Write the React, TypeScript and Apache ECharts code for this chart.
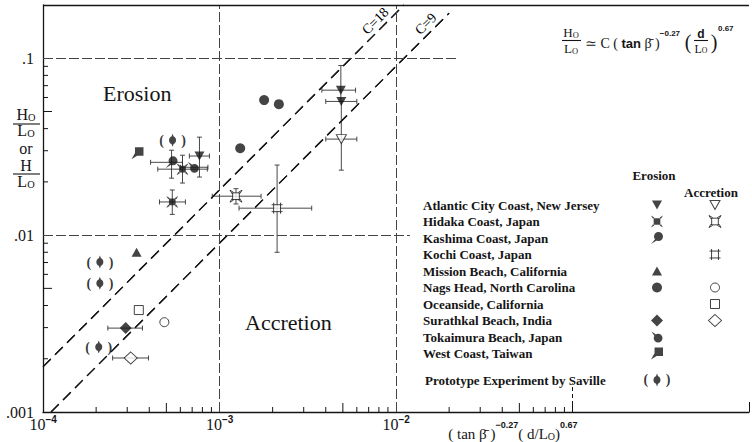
import React, { useEffect, useRef } from 'react';
import * as echarts from 'echarts';

// ---------------- data ----------------
const atlanticErosion = [[4.87e-3, 0.066], [4.9e-3, 0.057], [7.7e-4, 0.028]];
const atlanticAccretion = [[4.9e-3, 0.0349]];
const hidakaErosion = [[6.17e-4, 0.0236], [5.4e-4, 0.0154]];
const hidakaAccretion = [[1.24e-3, 0.0166]];
const kashimaErosion = [[5.35e-4, 0.0258]];
const kochiAccretion = [[2.12e-3, 0.0142]];
const missionErosion = [[3.39e-4, 0.008]];
const nagsErosion = [[1.79e-3, 0.058], [2.17e-3, 0.055], [1.31e-3, 0.031]];
const nagsAccretion = [[4.87e-4, 0.00322]];
const oceansideAccretion = [[3.49e-4, 0.00377]];
const surathkalErosion = [[2.94e-4, 0.00298]];
const surathkalAccretion = [[3.14e-4, 0.00202]];
const tokaimuraErosion = [[7.11e-4, 0.0242]];
const westCoastErosion = [[3.43e-4, 0.029]];
const savillePrototype = [[5.42e-4, 0.0344], [2.1e-4, 0.00704], [2.1e-4, 0.00535], [2.07e-4, 0.00233]];

// error bars: [x, y, low, high]
const xErrors = [
  [4.87e-3, 0.066, 3.8e-3, 5.9e-3],
  [4.9e-3, 0.057, 4.0e-3, 6.0e-3],
  [4.9e-3, 0.0349, 4.0e-3, 6.0e-3],
  [7.7e-4, 0.028, 6.75e-4, 8.77e-4],
  [6.17e-4, 0.0236, 4.47e-4, 8.53e-4],
  [5.4e-4, 0.0154, 4.57e-4, 6.41e-4],
  [1.24e-3, 0.0166, 9.1e-4, 1.72e-3],
  [2.12e-3, 0.0142, 1.29e-3, 3.33e-3],
  [5.35e-4, 0.0258, 4.07e-4, 6.17e-4],
  [7.11e-4, 0.0242, 6.0e-4, 8.6e-4],
  [2.94e-4, 0.00298, 2.33e-4, 3.66e-4],
  [3.14e-4, 0.00202, 2.48e-4, 3.96e-4],
];
const yErrors = [
  [4.87e-3, 0.066, 0.057, 0.091],
  [4.9e-3, 0.0349, 0.0233, 0.057],
  [7.7e-4, 0.028, 0.0213, 0.0358],
  [6.17e-4, 0.0236, 0.0197, 0.0283],
  [5.4e-4, 0.0154, 0.0131, 0.018],
  [1.24e-3, 0.0166, 0.015, 0.0183],
  [2.12e-3, 0.0142, 0.008, 0.0249],
  [5.35e-4, 0.0258, 0.021, 0.0302],
];

// reference lines H/L = C * X
const c18Line = [[1e-4, 0.0018], [0.0111, 0.2]];
const c9Line = [[1.11e-4, 0.001], [0.02, 0.18]];

// tick labels
const xTickExponents = [-4, -3, -2];
const yTickLabels = ['.001', '.01', '.1'];
const minorMultipliers = [2, 3, 4, 5, 6, 7, 8, 9];
const xMinorDecades = [1e-4, 1e-3, 1e-2];
const yMinorDecades = [1e-3, 1e-2];

const legendRows = [
  'Atlantic City Coast, New Jersey',
  'Hidaka Coast, Japan',
  'Kashima Coast, Japan',
  'Kochi Coast, Japan',
  'Mission Beach, California',
  'Nags Head, North Carolina',
  'Oceanside, California',
  'Surathkal Beach, India',
  'Tokaimura Beach, Japan',
  'West Coast, Taiwan',
];
const legendErosionMarks = ['triDown', 'hidaka', 'kashima', null, 'triUp', 'dot', null, 'diamond', 'tokaimura', 'west'];
const legendAccretionMarks = ['triDownOpen', 'hidakaOpen', null, 'kochi', null, 'ring', 'square', 'diamondOpen', null, null];

// ---------------- styling ----------------
const INK = '#151515';
const SERIF = '"Liberation Serif", "DejaVu Serif", serif';
const SANS = '"Liberation Sans", "DejaVu Sans", sans-serif';

const MARK: any = {
  triDown: { symbol: 'triangle', size: [10, 9], rotate: 180 },
  triDownOpen: { symbol: 'triangle', size: [10, 9], rotate: 180, open: true },
  triUp: { symbol: 'triangle', size: [10, 9] },
  dot: { symbol: 'circle', size: 10 },
  ring: { symbol: 'circle', size: 9, open: true },
  square: { symbol: 'rect', size: 9, open: true },
  diamond: { symbol: 'diamond', size: [12, 12] },
  diamondOpen: { symbol: 'diamond', size: [13, 12], open: true },
  hidaka: { symbol: 'path://M4,4H14V14H4Z M0,0L5,3L3,5Z M18,0L15,5L13,3Z M18,18L13,15L15,13Z M0,18L3,13L5,15Z', size: 12 },
  hidakaOpen: { symbol: 'path://M4,4H14V14H4Z M0,0L5,3L3,5Z M18,0L15,5L13,3Z M18,18L13,15L15,13Z M0,18L3,13L5,15Z', size: 12, open: true },
  kochi: { symbol: 'path://M3,3H13V13H3Z M0,3H3 M13,3H16 M0,13H3 M13,13H16 M3,0V3 M13,0V3 M3,13V16 M13,13V16', size: 11, open: true },
  kashima: { symbol: 'path://M5,8A6,6,0,1,1,17,8A6,6,0,1,1,5,8Z M1,18L7,11L9,13Z', size: 12 },
  tokaimura: { symbol: 'path://M4,10A6,6,0,1,1,16,10A6,6,0,1,1,4,10Z M1,1L7,5L5,7Z', size: 11 },
  west: { symbol: 'path://M5,1H17V13H5Z M0,18L5,9L8,13Z', size: 12 },
  saville: { symbol: 'path://M5,0L6,3C9,4,9,10,6,11L5,14L4,11C1,10,1,4,4,3Z', size: [7, 13], paren: true },
};

function scatter(name: string, data: any[], key: string, axisIndex = 0, extra: any = {}) {
  const m = MARK[key];
  return {
    type: 'scatter',
    name,
    data,
    xAxisIndex: axisIndex,
    yAxisIndex: axisIndex,
    symbol: m.symbol,
    symbolSize: m.size,
    symbolRotate: m.rotate || 0,
    itemStyle: m.open ? { color: '#fff', borderColor: INK, borderWidth: 1 } : { color: INK },
    label: m.paren
      ? {
          show: true,
          position: 'inside',
          formatter: '(     )',
          fontFamily: SERIF,
          fontWeight: 'bold',
          fontSize: 14,
          color: '#000',
          textBorderWidth: 0,
          textBorderColor: 'transparent',
        }
      : { show: false },
    z: 5,
    silent: true,
    ...extra,
  };
}

function errorSeries(data: number[][], horizontal: boolean) {
  return {
    type: 'custom',
    data,
    encode: { x: 0, y: 1 },
    silent: true,
    z: 3,
    renderItem: (params: any, api: any) => {
      const x = api.value(0);
      const y = api.value(1);
      const lo = api.value(2);
      const hi = api.value(3);
      const p1 = horizontal ? api.coord([lo, y]) : api.coord([x, lo]);
      const p2 = horizontal ? api.coord([hi, y]) : api.coord([x, hi]);
      const st = { stroke: '#333', lineWidth: 0.9 };
      const cap = 2.5;
      const caps = horizontal
        ? [
            { type: 'line', shape: { x1: p1[0], y1: p1[1] - cap, x2: p1[0], y2: p1[1] + cap }, style: st },
            { type: 'line', shape: { x1: p2[0], y1: p2[1] - cap, x2: p2[0], y2: p2[1] + cap }, style: st },
          ]
        : [
            { type: 'line', shape: { x1: p1[0] - cap, y1: p1[1], x2: p1[0] + cap, y2: p1[1] }, style: st },
            { type: 'line', shape: { x1: p2[0] - cap, y1: p2[1], x2: p2[0] + cap, y2: p2[1] }, style: st },
          ];
      return {
        type: 'group',
        children: [{ type: 'line', shape: { x1: p1[0], y1: p1[1], x2: p2[0], y2: p2[1] }, style: st }, ...caps],
      };
    },
  };
}

function buildOption() {
  const xMinor = xMinorDecades.flatMap((d) => minorMultipliers.map((m) => [m * d, 0.001, m]));
  const yMinor = yMinorDecades.flatMap((d) => minorMultipliers.map((m) => [1e-4, m * d, m]));

  const gridStyle = { color: '#444', width: 1, type: [10, 3] };
  const dashLine = { color: INK, width: 1.3, type: [11, 6] };

  const plot = [
    scatter('Atlantic City Coast, New Jersey – erosion', atlanticErosion, 'triDown'),
    scatter('Atlantic City Coast, New Jersey – accretion', atlanticAccretion, 'triDownOpen'),
    scatter('Hidaka Coast, Japan – erosion', hidakaErosion, 'hidaka'),
    scatter('Hidaka Coast, Japan – accretion', hidakaAccretion, 'hidakaOpen'),
    scatter('Kashima Coast, Japan – erosion', kashimaErosion, 'kashima'),
    scatter('Kochi Coast, Japan – accretion', kochiAccretion, 'kochi'),
    scatter('Mission Beach, California – erosion', missionErosion, 'triUp'),
    scatter('Nags Head, North Carolina – erosion', nagsErosion, 'dot', 0, {
      markLine: {
        silent: true,
        symbol: ['none', 'none'],
        label: { show: false },
        lineStyle: gridStyle,
        data: [
          [{ coord: [1e-4, 0.1] }, { coord: [0.022, 0.1] }],
          [{ coord: [1e-4, 0.01] }, { coord: [0.012, 0.01] }],
          [{ coord: [1e-3, 0.001] }, { coord: [1e-3, 0.2] }],
          [{ coord: [1e-2, 0.001] }, { coord: [1e-2, 0.2] }],
          [{ coord: [0.1, 0.001], lineStyle: { color: INK, type: [4, 3], width: 1 } }, { coord: [0.1, 0.00145] }],
          [{ coord: [1e-4, 0.2], lineStyle: { color: INK, type: 'solid', width: 1.3 } }, { coord: [1, 0.2] }],
        ],
      },
    }),
    scatter('Nags Head, North Carolina – accretion', nagsAccretion, 'ring'),
    scatter('Oceanside, California – accretion', oceansideAccretion, 'square'),
    scatter('Surathkal Beach, India – erosion', surathkalErosion, 'diamond'),
    scatter('Surathkal Beach, India – accretion', surathkalAccretion, 'diamondOpen'),
    scatter('Tokaimura Beach, Japan – erosion', tokaimuraErosion, 'tokaimura'),
    scatter('West Coast, Taiwan – erosion', westCoastErosion, 'west'),
    scatter('Prototype Experiment by Saville', savillePrototype, 'saville'),
  ];

  const cLine = (name: string, data: number[][], dist: number[]) => ({
    type: 'line',
    name,
    data,
    symbol: 'none',
    silent: true,
    lineStyle: dashLine,
    z: 2,
    markLine: {
      silent: true,
      symbol: ['none', 'none'],
      lineStyle: dashLine,
      label: {
        show: true,
        formatter: name,
        position: 'insideEndTop',
        distance: dist,
        fontFamily: SERIF,
        fontSize: 14,
        color: '#000',
        textBorderWidth: 0,
        textBorderColor: 'transparent',
      },
      data: [[{ coord: data[0] }, { coord: data[1] }]],
    },
  });

  const minorTicks = (data: any[], vertical: boolean) => ({
    type: 'custom',
    data,
    encode: { x: 0, y: 1 },
    silent: true,
    z: 1,
    renderItem: (params: any, api: any) => {
      const p = api.coord([api.value(0), api.value(1)]);
      const len = api.value(2) === 5 ? 9 : 5;
      const shape = vertical
        ? { x1: p[0], y1: p[1], x2: p[0], y2: p[1] - len }
        : { x1: p[0], y1: p[1], x2: p[0] + len, y2: p[1] };
      return { type: 'line', shape, style: { stroke: INK, lineWidth: 1 } };
    },
  });

  // legend symbols on a second grid
  const legendSeries: any[] = [];
  legendErosionMarks.forEach((k, i) => {
    if (k) legendSeries.push(scatter('legend-e-' + i, [[0, i]], k, 1));
  });
  legendAccretionMarks.forEach((k, i) => {
    if (k) legendSeries.push(scatter('legend-a-' + i, [[1, i]], k, 1));
  });
  legendSeries.push(scatter('legend-saville', [[0, 10.6]], 'saville', 1));

  const sup = { fontFamily: SANS, fontWeight: 'bold', fontSize: 8, lineHeight: 9, verticalAlign: 'top', fill: INK, color: INK };
  const spacer = (h: number) => ({ fontSize: 1, lineHeight: h, verticalAlign: 'top' });

  const legendText = legendRows.map((t, i) => ({
    type: 'text',
    x: 423,
    y: 205 + i * 16.5,
    style: { text: t, fill: INK, fontFamily: SERIF, fontWeight: 'bold', fontSize: 13, lineHeight: 14, align: 'left', verticalAlign: 'middle' },
  }));

  const frac = (letter: string, x: number, y: number, size: number, lh: number) => ({
    type: 'text',
    x,
    y,
    style: {
      text: '{m|' + letter + '}{s|O}',
      align: 'center',
      verticalAlign: 'middle',
      rich: {
        m: { fontFamily: SERIF, fontSize: size, lineHeight: lh, verticalAlign: 'bottom', fill: INK },
        s: { fontFamily: SERIF, fontSize: size * 0.65, lineHeight: lh * 0.6, verticalAlign: 'bottom', fill: INK },
      },
    },
  });
  const bar = (x1: number, x2: number, y: number) => ({
    type: 'line',
    shape: { x1, y1: y, x2, y2: y },
    style: { stroke: INK, lineWidth: 1.1 },
  });

  const graphic: any[] = [
    // region labels
    { type: 'text', x: 103, y: 93, style: { text: 'Erosion', fill: INK, fontFamily: SERIF, fontSize: 22, verticalAlign: 'middle' } },
    { type: 'text', x: 245, y: 322, style: { text: 'Accretion', fill: INK, fontFamily: SERIF, fontSize: 22, verticalAlign: 'middle' } },
    // y-axis title
    frac('H', 26, 116, 16, 13),
    bar(13, 40, 124),
    frac('L', 26, 132, 16, 13),
    { type: 'text', x: 26, y: 148, style: { text: 'or', fill: INK, fontFamily: SERIF, fontSize: 16, lineHeight: 13, align: 'center', verticalAlign: 'middle' } },
    { type: 'text', x: 26, y: 165, style: { text: 'H', fill: INK, fontFamily: SERIF, fontSize: 16, lineHeight: 13, align: 'center', verticalAlign: 'middle' } },
    bar(13, 40, 174),
    frac('L', 26, 183, 16, 13),
    // x-axis title
    {
      type: 'text',
      x: 448,
      y: 420,
      style: {
        text: '{h| }{p|( tan }{p|β̄ )}{sup|−0.27}{p|( d/L}{sub|O}{p|)}{sup|0.67}',
        align: 'left',
        verticalAlign: 'top',
        rich: {
          h: spacer(21),
          p: { fontFamily: SERIF, fontSize: 15, lineHeight: 16, verticalAlign: 'bottom', fill: INK },
          sub: { fontFamily: SERIF, fontSize: 10, lineHeight: 9, verticalAlign: 'bottom', fill: INK },
          sup: { ...sup, fontSize: 9 },
        },
      },
    },
    // formula
    frac('H', 571, 33, 13, 12),
    bar(562, 581, 40.5),
    frac('L', 571, 49, 13, 12),
    {
      type: 'text',
      x: 585,
      y: 29,
      style: {
        text: '{h| }{m|≃ C ( }{b|tan}{m| β̄ )}{sup|−0.27}',
        align: 'left',
        verticalAlign: 'top',
        rich: {
          h: spacer(21),
          m: { fontFamily: SERIF, fontSize: 14, lineHeight: 16, verticalAlign: 'bottom', fill: INK },
          b: { fontFamily: SANS, fontWeight: 'bold', fontSize: 13, lineHeight: 16, verticalAlign: 'bottom', fill: INK },
          sup,
        },
      },
    },
    { type: 'text', x: 688, y: 42, style: { text: '(', fill: INK, fontFamily: SERIF, fontSize: 20, align: 'center', verticalAlign: 'middle' } },
    { type: 'text', x: 701, y: 34, style: { text: 'd', fill: INK, fontFamily: SANS, fontWeight: 'bold', fontSize: 12, lineHeight: 11, align: 'center', verticalAlign: 'middle' } },
    bar(694, 708, 40.5),
    frac('L', 701, 49, 12, 11),
    { type: 'text', x: 714, y: 42, style: { text: ')', fill: INK, fontFamily: SERIF, fontSize: 20, align: 'center', verticalAlign: 'middle' } },
    { type: 'text', x: 718, y: 28, style: { text: '0.67', fill: INK, fontFamily: SANS, fontWeight: 'bold', fontSize: 8, align: 'left', verticalAlign: 'middle' } },
    // legend headers
    { type: 'text', x: 654, y: 175, style: { text: 'Erosion', fill: INK, fontFamily: SERIF, fontWeight: 'bold', fontSize: 13, align: 'center', verticalAlign: 'middle' } },
    { type: 'text', x: 711, y: 192, style: { text: 'Accretion', fill: INK, fontFamily: SERIF, fontWeight: 'bold', fontSize: 13, align: 'center', verticalAlign: 'middle' } },
    ...legendText,
    { type: 'text', x: 425, y: 380, style: { text: 'Prototype Experiment by Saville', fill: INK, fontFamily: SERIF, fontWeight: 'bold', fontSize: 13, align: 'left', verticalAlign: 'middle' } },
  ];

  return {
    animation: false,
    backgroundColor: '#fff',
    grid: [
      { left: 43, right: 0, top: 5, bottom: 30 },
      { left: 657, width: 58, top: 205, height: 181.5 },
    ],
    xAxis: [
      {
        type: 'log',
        logBase: 10,
        min: 1e-4,
        max: 1,
        gridIndex: 0,
        axisLine: { show: true, lineStyle: { color: INK, width: 1.3 } },
        axisTick: { show: true, inside: true, length: 10, lineStyle: { color: INK } },
        splitLine: { show: false },
        axisLabel: {
          margin: 2,
          formatter: (v: number) => {
            const e = Math.round(Math.log10(v));
            if (Math.abs(Math.log10(v) - e) > 1e-6 || xTickExponents.indexOf(e) < 0) return '';
            return '{h| }{b|10}{s|−' + Math.abs(e) + '}';
          },
          rich: {
            h: { fontSize: 1, lineHeight: 18, verticalAlign: 'top' },
            b: { fontFamily: SERIF, fontSize: 16, lineHeight: 14, verticalAlign: 'bottom', color: INK },
            s: { fontFamily: SANS, fontWeight: 'bold', fontSize: 10, lineHeight: 8, verticalAlign: 'top', color: INK },
          },
        },
      },
      { type: 'value', gridIndex: 1, min: 0, max: 1, show: false },
    ],
    yAxis: [
      {
        type: 'log',
        logBase: 10,
        min: 0.001,
        max: 0.2,
        gridIndex: 0,
        axisLine: { show: true, lineStyle: { color: INK, width: 1.3 } },
        axisTick: { show: true, inside: true, length: 10, lineStyle: { color: INK } },
        splitLine: { show: false },
        axisLabel: {
          margin: 9,
          fontFamily: SERIF,
          fontSize: 16,
          lineHeight: 13,
          color: INK,
          formatter: (v: number) => {
            const e = Math.round(Math.log10(v));
            if (Math.abs(Math.log10(v) - e) > 1e-6) return '';
            return yTickLabels[e + 3] ?? '';
          },
        },
      },
      { type: 'value', gridIndex: 1, min: 0, max: 11, inverse: true, show: false },
    ],
    series: [
      minorTicks(xMinor, true),
      minorTicks(yMinor, false),
      cLine('C=18', c18Line, [16, 2]),
      cLine('C=9', c9Line, [12, 2]),
      errorSeries(xErrors, true),
      errorSeries(yErrors, false),
      ...plot,
      ...legendSeries,
    ],
    graphic,
  };
}

export default function App() {
  const ref = useRef<HTMLDivElement>(null);
  useEffect(() => {
    if (!ref.current) return;
    const chart = echarts.init(ref.current, null, { renderer: 'svg' });
    chart.setOption(buildOption() as any);
    return () => chart.dispose();
  }, []);
  return (
    <div
      ref={ref}
      style={{ position: 'fixed', left: 0, top: 0, width: 752, height: 442, background: '#fff' }}
    />
  );
}
